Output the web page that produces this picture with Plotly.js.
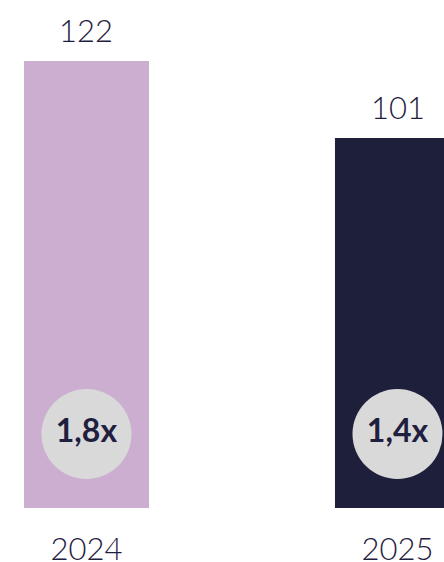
<!DOCTYPE html>
<html>
<head>
<meta charset="utf-8">
<script src="https://cdn.plot.ly/plotly-3.0.1.min.js"></script>
<style>
  html, body { margin: 0; padding: 0; background: #fff; }
  #plot { width: 444px; height: 562px; }
</style>
</head>
<body>
<div id="plot"></div>
<script>
// data
var years = ["2024", "2025"];
var values = [122, 101];
var multiples = ["1,8x", "1,4x"];
var barColors = ["#cbaed0", "#1e1f3b"];

var navy = "#1f2040";
var fontFam = "Lato, 'Open Sans', sans-serif";

var bars = {
  x: years,
  y: values,
  type: "bar",
  width: 0.402,
  marker: { color: barColors },
  hoverinfo: "none"
};

// grey badges sitting near the bottom of each bar
var badges = {
  x: years,
  y: years.map(function () { return 20.2; }),
  mode: "markers+text",
  type: "scatter",
  text: multiples,
  textposition: "middle center",
  textfont: { family: fontFam, size: 32, color: navy, weight: 700 },
  marker: { size: 90, color: "#d9d9d9", line: { width: 0 } },
  hoverinfo: "none",
  cliponaxis: false
};

// category axis: annotations placed by category index
var valueLabels = years.map(function (yr, i) {
  return {
    x: i, y: values[i],
    text: String(values[i]),
    showarrow: false,
    yanchor: "bottom",
    yshift: 10,
    font: { family: fontFam, size: 31, color: navy, weight: 300 }
  };
});

var layout = {
  width: 444,
  height: 562,
  margin: { l: 0, r: 0, t: 0, b: 54 },
  paper_bgcolor: "#fff",
  plot_bgcolor: "#fff",
  showlegend: false,
  xaxis: {
    type: "category",
    range: [-0.278, 1.1495],
    showgrid: false,
    zeroline: false,
    showline: false,
    ticks: "",
    ticklabelstandoff: 20,
    tickfont: { family: fontFam, size: 31, color: navy, weight: 300 },
    fixedrange: true
  },
  yaxis: {
    range: [0, 138.65],
    visible: false,
    fixedrange: true
  },
  annotations: valueLabels
};

Plotly.newPlot("plot", [bars, badges], layout, { displayModeBar: false, staticPlot: true });
</script>
</body>
</html>
